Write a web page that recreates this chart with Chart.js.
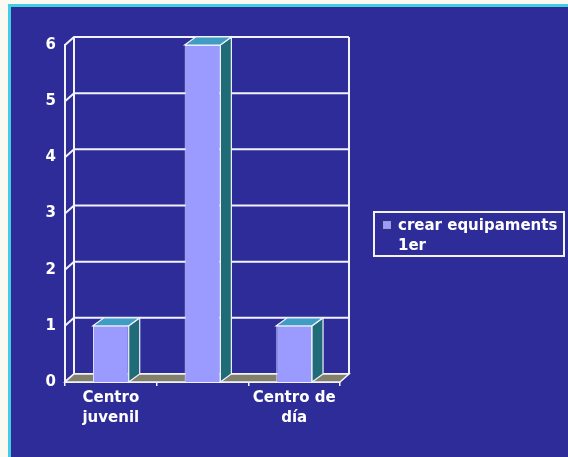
<!DOCTYPE html>
<html>
<head>
<meta charset="utf-8">
<script src="https://cdn.jsdelivr.net/npm/chart.js@4.4.0/dist/chart.umd.min.js"></script>
<style>
  html, body { margin: 0; padding: 0; background: #fbfaf2; }
  #frame {
    position: absolute; left: 8px; top: 4px; width: 560px; height: 453px;
    background: #2e2c98; border-left: 3px solid #44cfe0; border-top: 3px solid #44cfe0;
    box-sizing: border-box;
  }
  #chart { position: absolute; left: 0; top: 0; }
</style>
</head>
<body>
<div id="frame"></div>
<canvas id="chart" width="568" height="457"></canvas>
<script>
// datos
const categories = [['Centro', 'juvenil'], '', ['Centro de', 'día']];
const values = [1, 6, 1];
const seriesName = 'crear equipaments 1er';
const yTicks = [0, 1, 2, 3, 4, 5, 6];

const FONT = { family: '"DejaVu Sans", Verdana, sans-serif', size: 15, weight: 'bold' };
const LINE = '#f2f2fc';
const DX = 9, DY = -8; // profundidad 3D

// Paredes, suelo y rejilla del fondo
const wall3d = {
    id: 'wall3d',
    beforeDatasetsDraw(chart) {
        const { ctx, chartArea: a, scales: { y } } = chart;
        ctx.save();
        ctx.strokeStyle = LINE;
        ctx.lineWidth = 2;
        yTicks.forEach(v => {
            const py = y.getPixelForValue(v);
            ctx.beginPath();
            ctx.moveTo(a.left, py);
            ctx.lineTo(a.left + DX, py + DY);
            ctx.lineTo(a.right + DX, py + DY);
            ctx.stroke();
        });
        ctx.beginPath();
        ctx.moveTo(a.left + DX, a.top + DY); ctx.lineTo(a.left + DX, a.bottom + DY);
        ctx.moveTo(a.right + DX, a.top + DY); ctx.lineTo(a.right + DX, a.bottom + DY);
        ctx.stroke();

        // suelo
        ctx.beginPath();
        ctx.moveTo(a.left, a.bottom);
        ctx.lineTo(a.right, a.bottom);
        ctx.lineTo(a.right + DX, a.bottom + DY);
        ctx.lineTo(a.left + DX, a.bottom + DY);
        ctx.closePath();
        ctx.fillStyle = '#82806a';
        ctx.fill();
        ctx.lineWidth = 1.5;
        ctx.stroke();
        ctx.restore();
    },
    afterDatasetsDraw(chart) {
        const { ctx } = chart;
        const meta = chart.getDatasetMeta(0);
        ctx.save();
        ctx.strokeStyle = LINE;
        ctx.lineWidth = 1.2;
        meta.data.forEach(bar => {
            const { x, y, base, width } = bar.getProps(['x', 'y', 'base', 'width'], true);
            const l = x - width / 2, r = x + width / 2;
            // lateral
            ctx.beginPath();
            ctx.moveTo(r, y); ctx.lineTo(r + DX + 2, y + DY);
            ctx.lineTo(r + DX + 2, base + DY); ctx.lineTo(r, base);
            ctx.closePath();
            ctx.fillStyle = '#1f6b78';
            ctx.fill(); ctx.stroke();
            // tapa
            ctx.beginPath();
            ctx.moveTo(l, y); ctx.lineTo(l + DX + 2, y + DY);
            ctx.lineTo(r + DX + 2, y + DY); ctx.lineTo(r, y);
            ctx.closePath();
            ctx.fillStyle = '#3f9dc4';
            ctx.fill(); ctx.stroke();
        });
        ctx.restore();
    },
    afterDraw(chart) {
        // leyenda con recuadro
        const { ctx } = chart;
        const ds = chart.data.datasets[0];
        ctx.save();
        ctx.font = `${FONT.weight} ${FONT.size}px ${FONT.family}`;
        const words = ds.label.split(' ');
        const lines = [];
        let cur = '';
        words.forEach(w => {
            const t = cur ? cur + ' ' + w : w;
            if (ctx.measureText(t).width > 162 && cur) { lines.push(cur); cur = w; }
            else cur = t;
        });
        lines.push(cur);

        ctx.strokeStyle = LINE;
        ctx.lineWidth = 2;
        ctx.strokeRect(374, 212, 190, 44);
        ctx.fillStyle = ds.backgroundColor;
        ctx.fillRect(383, 221, 8, 8);
        ctx.lineWidth = 1;
        ctx.strokeStyle = '#a0a0b0';
        ctx.strokeRect(383.5, 221.5, 7, 7);
        ctx.fillStyle = '#ffffff';
        ctx.textBaseline = 'middle';
        lines.forEach((s, i) => ctx.fillText(s, 398, 226 + i * 20));
        ctx.restore();
    }
};

new Chart(document.getElementById('chart'), {
    type: 'bar',
    data: {
        labels: categories,
        datasets: [{
            label: seriesName,
            data: values,
            backgroundColor: '#9a9aff',
            borderColor: '#e4e4ff',
            borderWidth: 1,
            categoryPercentage: 1,
            barPercentage: 0.39
        }]
    },
    options: {
        responsive: false,
        animation: false,
        devicePixelRatio: 1,
        layout: { padding: { left: 25, right: 228, top: 45, bottom: 15 } },
        plugins: { legend: { display: false }, tooltip: { enabled: false } },
        scales: {
            y: {
                min: 0, max: 6,
                afterFit: s => { s.width = 40; },
                afterBuildTicks: s => { s.ticks = yTicks.map(v => ({ value: v })); },
                grid: { display: false, drawTicks: false },
                border: { display: true, color: LINE, width: 2 },
                ticks: { color: '#ffffff', font: FONT, padding: 9 }
            },
            x: {
                afterFit: s => { s.height = 60; },
                grid: { display: true, drawOnChartArea: false, drawTicks: true, tickLength: 4, color: LINE, lineWidth: 1.5 },
                border: { display: true, color: LINE, width: 2 },
                ticks: { color: '#ffffff', font: { ...FONT, lineHeight: 1.35 }, padding: 2, autoSkip: false, maxRotation: 0 }
            }
        }
    },
    plugins: [wall3d]
});
</script>
</body>
</html>
